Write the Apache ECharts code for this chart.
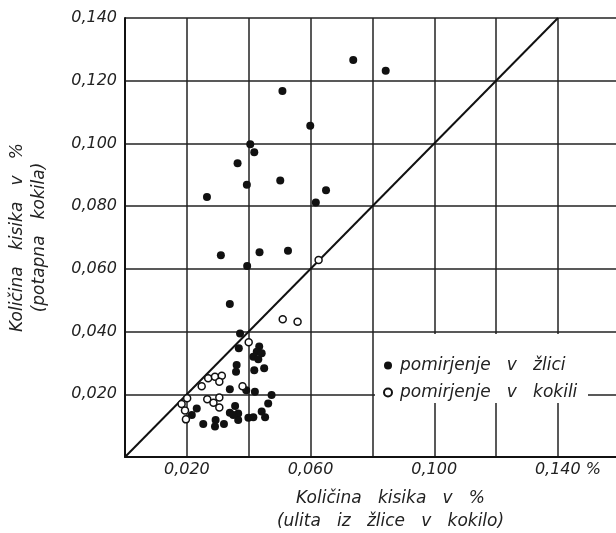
<!DOCTYPE html>
<html><head><meta charset="utf-8">
<script src="https://cdn.jsdelivr.net/npm/echarts@6/dist/echarts.min.js"></script>
<style>html,body{margin:0;padding:0;background:#fff}#c{width:616px;height:533px}</style>
</head><body><div id="c"></div>
<script>
// Filled dots: deoxidation in the ladle (pomirjenje v žlici)
var ladleX = [0.0738,0.0843,0.0509,0.0599,0.0405,0.0418,0.0364,0.0394,0.0502,0.0650,0.0617,0.0265,0.0310,0.0435,0.0527,0.0395,0.0339,0.0372,0.0368,0.0434,0.0426,0.0442,0.0415,0.0431,0.0361,0.0359,0.0418,0.0450,0.0339,0.0392,0.0420,0.0474,0.0232,0.0216,0.0356,0.0339,0.0366,0.0399,0.0415,0.0442,0.0453,0.0463,0.0253,0.0291,0.0320,0.0293,0.0366,0.0350];
var ladleY = [0.1266,0.1232,0.1167,0.1056,0.0997,0.0972,0.0937,0.0868,0.0882,0.0851,0.0812,0.0829,0.0643,0.0653,0.0658,0.0609,0.0488,0.0394,0.0347,0.0352,0.0336,0.0331,0.0320,0.0312,0.0293,0.0272,0.0277,0.0283,0.0216,0.0213,0.0208,0.0198,0.0155,0.0134,0.0163,0.0141,0.0139,0.0125,0.0127,0.0145,0.0127,0.0171,0.0105,0.0097,0.0105,0.0118,0.0118,0.0134];
// Open circles: deoxidation in the mould (pomirjenje v kokili)
var mouldX = [0.0626,0.0510,0.0558,0.0400,0.0269,0.0291,0.0313,0.0305,0.0248,0.0380,0.0266,0.0305,0.0286,0.0305,0.0201,0.0183,0.0194,0.0197];
var mouldY = [0.0628,0.0439,0.0431,0.0366,0.0251,0.0256,0.0259,0.0240,0.0226,0.0226,0.0184,0.0190,0.0173,0.0158,0.0187,0.0169,0.0148,0.0120];
// Equality line
var diagX = [0, 0.14];
var diagY = [0, 0.14];
var xTickLabels = {'0.02':'0,020','0.06':'0,060','0.1':'0,100','0.14':'0,140'};
var yTickLabels = {'0.02':'0,020','0.04':'0,040','0.06':'0,060','0.08':'0,080','0.1':'0,100','0.12':'0,120','0.14':'0,140'};
var seriesNames = ['pomirjenje   v   žlici', 'pomirjenje   v   kokili'];
var xTitle = 'Količina   kisika   v   %\n(ulita   iz   žlice   v   kokilo)';
var yTitle = 'Količina   kisika   v   %\n(potapna   kokila)';

function zip(a, b){ return a.map(function(v,i){ return [v, b[i]]; }); }
function key(v){ return String(Math.round(v*1000)/1000); }

var FONT = 'DejaVu Sans';
var chart = echarts.init(document.getElementById('c'), null, {renderer:'canvas'});
chart.setOption({
  backgroundColor:'#fff',
  animation:false,
  grid:{left:125, top:18, right:-10, bottom:76, containLabel:false, outerBoundsMode:'none'},
  xAxis:{
    type:'value', min:0, max:0.162, interval:0.02,
    axisLine:{show:true, onZero:false, lineStyle:{color:'#111', width:2}},
    axisTick:{show:false},
    splitLine:{show:true, lineStyle:{color:'#222', width:1.5}},
    axisLabel:{
      margin:5, color:'#222', fontFamily:FONT, fontStyle:'italic', fontSize:16,
      showMaxLabel:false,
      formatter:function(v){ var t = xTickLabels[key(v)] || ''; if (t==='0,140') return '{s|}' + t + '{p| %}'; return t; },
      rich:{ s:{width:20}, p:{fontFamily:FONT, fontStyle:'italic', fontSize:16, color:'#222'} }
    },
    name:xTitle, nameLocation:'middle', nameGap:30,
    nameTextStyle:{color:'#222', fontFamily:FONT, fontStyle:'italic', fontSize:17, lineHeight:23, padding:[0,0,0,30]}
  },
  yAxis:{
    type:'value', min:0, max:0.14, interval:0.02,
    axisLine:{show:true, onZero:false, lineStyle:{color:'#111', width:2}},
    axisTick:{show:false},
    splitLine:{show:true, lineStyle:{color:'#222', width:1.5}},
    axisLabel:{
      margin:8, color:'#222', fontFamily:FONT, fontStyle:'italic', fontSize:16,
      formatter:function(v){ return yTickLabels[key(v)] || ''; }
    },
    name:yTitle, nameLocation:'middle', nameGap:66, nameRotate:90,
    nameTextStyle:{color:'#222', fontFamily:FONT, fontStyle:'italic', fontSize:17, lineHeight:22, padding:[0,0,8,0]}
  },
  legend:{
    orient:'vertical', left:378, top:352, itemGap:10, itemWidth:8, itemHeight:8,
    data:[{name:seriesNames[0], icon:'circle'},{name:seriesNames[1], icon:'circle'}],
    textStyle:{color:'#222', fontFamily:FONT, fontStyle:'italic', fontSize:17, padding:[0,0,0,3]},
    z:10
  },
  graphic:[{
    type:'rect', shape:{x:375, y:334, width:213, height:69},
    style:{fill:'#fff'}, z:1, silent:true
  }],
  series:[
    {type:'line', data:zip(diagX, diagY), symbol:'none', lineStyle:{color:'#111', width:2}, z:3, silent:true},
    {type:'scatter', name:seriesNames[0], data:zip(ladleX, ladleY), symbol:'circle', symbolSize:8,
     itemStyle:{color:'#111', opacity:1}, z:5},
    {type:'scatter', name:seriesNames[1], data:zip(mouldX, mouldY), symbol:'circle', symbolSize:7,
     itemStyle:{color:'#fff', borderColor:'#111', borderWidth:1.5, opacity:1}, z:5}
  ]
});
</script></body></html>
